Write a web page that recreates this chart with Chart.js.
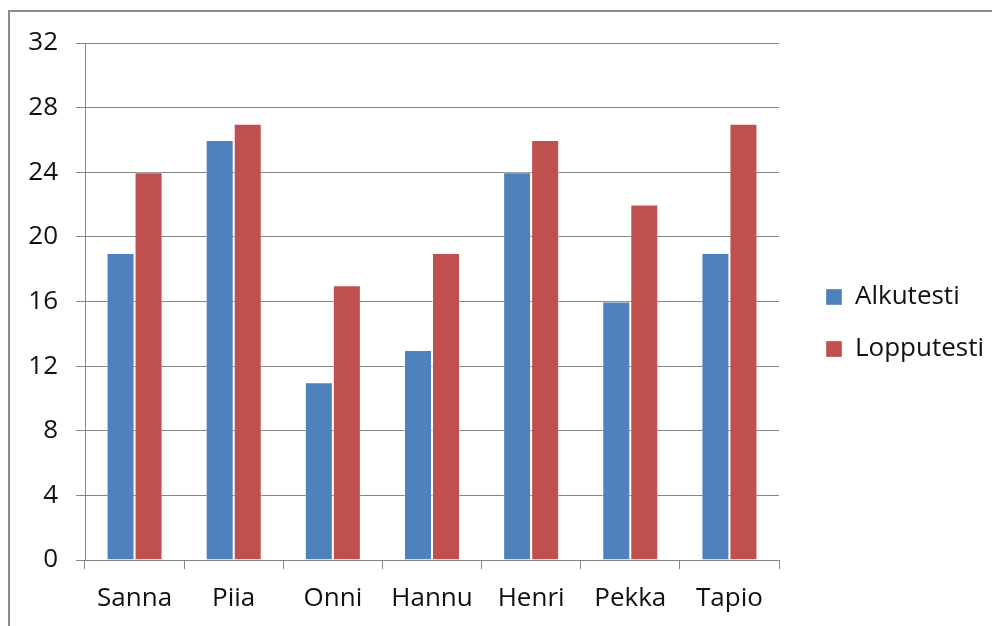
<!DOCTYPE html>
<html>
<head>
<meta charset="utf-8">
<script src="https://cdn.jsdelivr.net/npm/chart.js@4/dist/chart.umd.min.js"></script>
<style>
  html, body { margin: 0; padding: 0; background: #fff; overflow: hidden; }
  #frame { position: absolute; left: 8px; top: 10px; width: 1100px; height: 800px;
           border-left: 2px solid #8c8c8c; border-top: 2px solid #8c8c8c; }
  #c { position: absolute; left: 0; top: 0; }
</style>
</head>
<body>
<div id="frame"></div>
<canvas id="c" width="992" height="626"></canvas>
<script>
// Test scores per student
const students = ['Sanna', 'Piia', 'Onni', 'Hannu', 'Henri', 'Pekka', 'Tapio'];
const alkutesti = [19, 26, 11, 13, 24, 16, 19];
const lopputesti = [24, 27, 17, 19, 26, 22, 27];
const yTicks = [0, 4, 8, 12, 16, 20, 24, 28, 32];

const FONT = "'Open Sans', sans-serif";
const GRID = '#868686';
const TEXT = '#111111';

new Chart(document.getElementById('c'), {
  type: 'bar',
  data: {
    labels: students,
    datasets: [
      { label: 'Alkutesti', data: alkutesti, backgroundColor: '#4F81BD',
        borderColor: 'rgba(255,255,255,0.35)', borderWidth: 1 },
      { label: 'Lopputesti', data: lopputesti, backgroundColor: '#C0504D',
        borderColor: 'rgba(255,255,255,0.35)', borderWidth: 1 }
    ]
  },
  options: {
    responsive: false,
    animation: false,
    devicePixelRatio: 1,
    layout: { padding: { top: 43, left: 0, right: 6, bottom: 0 } },
    datasets: { bar: { categoryPercentage: 0.565, barPercentage: 1.0 } },
    plugins: {
      tooltip: { enabled: false },
      legend: {
        position: 'right',
        fullSize: false,
        maxWidth: 186,
        // empty title only adds vertical space above the items
        title: { display: true, text: '', font: { family: FONT, size: 20, lineHeight: 1.2 },
                 padding: { top: 19, bottom: 0 } },
        labels: {
          boxWidth: 16, boxHeight: 16, padding: 26,
          color: TEXT, font: { family: FONT, size: 26 }
        }
      }
    },
    scales: {
      x: {
        grid: { display: true, drawOnChartArea: false, drawTicks: true, tickLength: 9, color: GRID, offset: true },
        border: { display: true, color: GRID, width: 1 },
        ticks: { color: TEXT, font: { family: FONT, size: 26 }, padding: 14, maxRotation: 0 },
        afterFit: s => { s.height = 66; }
      },
      y: {
        min: 0, max: 32,
        afterBuildTicks: s => { s.ticks = yTicks.map(v => ({ value: v })); },
        grid: { color: GRID, lineWidth: 1, tickLength: 9 },
        border: { display: true, color: GRID, width: 1 },
        ticks: { color: TEXT, font: { family: FONT, size: 26 }, padding: 18 },
        afterFit: s => { s.width = 85; }
      },
      gap: {
        position: 'right', type: 'linear', min: 0, max: 1,
        grid: { display: false }, border: { display: false },
        ticks: { display: false },
        afterFit: s => { s.width = 21; }
      }
    }
  }
});
</script>
</body>
</html>
